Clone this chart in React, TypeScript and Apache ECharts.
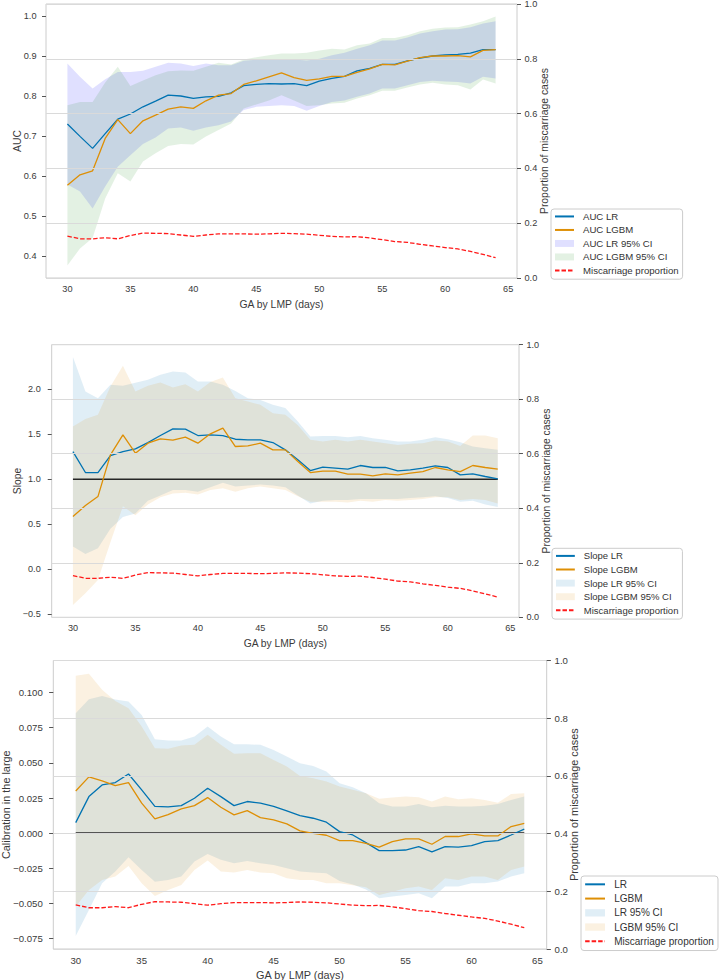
import React, { useEffect, useRef } from "react";
import * as echarts from "echarts";

// ---------------- data ----------------
const DAYS = [30, 31, 32, 33, 34, 35, 36, 37, 38, 39, 40, 41, 42, 43, 44, 45, 46, 47, 48, 49, 50, 51, 52, 53, 54, 55, 56, 57, 58, 59, 60, 61, 62, 63, 64];
const X_TICKS = [30, 35, 40, 45, 50, 55, 60, 65];
const RIGHT_TICKS = [0, 0.2, 0.4, 0.6, 0.8, 1.0];

const MISCARRIAGE = [0.153, 0.143, 0.143, 0.147, 0.143, 0.155, 0.164, 0.163, 0.162, 0.157, 0.152, 0.157, 0.161, 0.161, 0.161, 0.160, 0.161, 0.163, 0.162, 0.160, 0.156, 0.152, 0.150, 0.151, 0.146, 0.140, 0.133, 0.130, 0.123, 0.117, 0.111, 0.106, 0.097, 0.086, 0.074];

// AUC panel
const AUC_TICKS = [0.4, 0.5, 0.6, 0.7, 0.8, 0.9, 1.0];
const AUC_LR = [0.731, 0.700, 0.670, 0.707, 0.743, 0.756, 0.774, 0.788, 0.803, 0.801, 0.795, 0.799, 0.800, 0.809, 0.827, 0.830, 0.832, 0.831, 0.832, 0.827, 0.838, 0.845, 0.850, 0.864, 0.870, 0.880, 0.880, 0.889, 0.896, 0.901, 0.904, 0.905, 0.908, 0.917, 0.917];
const AUC_LGBM = [0.578, 0.604, 0.614, 0.695, 0.742, 0.707, 0.739, 0.753, 0.768, 0.774, 0.770, 0.789, 0.803, 0.807, 0.830, 0.839, 0.849, 0.859, 0.847, 0.840, 0.844, 0.850, 0.850, 0.860, 0.869, 0.880, 0.879, 0.888, 0.897, 0.901, 0.901, 0.902, 0.899, 0.915, 0.917];
const AUC_LR_LO = [0.580, 0.562, 0.520, 0.575, 0.624, 0.653, 0.681, 0.697, 0.720, 0.722, 0.714, 0.722, 0.728, 0.737, 0.766, 0.774, 0.776, 0.778, 0.776, 0.764, 0.776, 0.786, 0.790, 0.799, 0.807, 0.820, 0.820, 0.828, 0.836, 0.839, 0.837, 0.836, 0.832, 0.849, 0.845];
const AUC_LR_HI = [0.882, 0.849, 0.820, 0.843, 0.861, 0.861, 0.864, 0.874, 0.884, 0.882, 0.876, 0.882, 0.878, 0.878, 0.889, 0.892, 0.892, 0.892, 0.892, 0.890, 0.894, 0.903, 0.909, 0.919, 0.928, 0.940, 0.940, 0.947, 0.957, 0.963, 0.967, 0.968, 0.973, 0.982, 0.988];
const AUC_LGBM_LO = [0.377, 0.420, 0.446, 0.545, 0.608, 0.587, 0.637, 0.658, 0.676, 0.681, 0.680, 0.700, 0.716, 0.732, 0.770, 0.780, 0.790, 0.803, 0.790, 0.776, 0.778, 0.782, 0.784, 0.795, 0.803, 0.814, 0.814, 0.822, 0.830, 0.834, 0.830, 0.828, 0.817, 0.842, 0.832];
const AUC_LGBM_HI = [0.778, 0.786, 0.786, 0.835, 0.874, 0.826, 0.840, 0.853, 0.863, 0.865, 0.864, 0.874, 0.884, 0.880, 0.892, 0.898, 0.903, 0.907, 0.907, 0.909, 0.915, 0.919, 0.917, 0.928, 0.932, 0.946, 0.946, 0.953, 0.963, 0.969, 0.972, 0.973, 0.980, 0.988, 1.000];

// Slope panel
const SLOPE_TICKS = [-0.5, 0.0, 0.5, 1.0, 1.5, 2.0];
const SLOPE_REF = 1.0;
const SLOPE_LR = [1.307, 1.074, 1.074, 1.263, 1.307, 1.337, 1.407, 1.485, 1.559, 1.556, 1.485, 1.493, 1.485, 1.444, 1.437, 1.437, 1.407, 1.326, 1.215, 1.096, 1.133, 1.122, 1.111, 1.152, 1.130, 1.130, 1.093, 1.104, 1.122, 1.148, 1.130, 1.048, 1.059, 1.030, 1.004];
const SLOPE_LGBM = [0.585, 0.707, 0.807, 1.270, 1.493, 1.289, 1.400, 1.448, 1.433, 1.467, 1.400, 1.504, 1.567, 1.363, 1.370, 1.400, 1.326, 1.326, 1.196, 1.074, 1.089, 1.089, 1.056, 1.056, 1.037, 1.059, 1.048, 1.067, 1.085, 1.130, 1.104, 1.085, 1.152, 1.130, 1.111];
const SLOPE_LR_LO = [0.252, 0.170, 0.233, 0.450, 0.580, 0.620, 0.760, 0.820, 0.880, 0.880, 0.860, 0.910, 0.960, 0.920, 0.930, 0.940, 0.930, 0.910, 0.820, 0.730, 0.760, 0.770, 0.770, 0.780, 0.780, 0.780, 0.780, 0.790, 0.800, 0.810, 0.790, 0.750, 0.760, 0.720, 0.690];
const SLOPE_LR_HI = [2.356, 1.974, 1.900, 2.050, 2.037, 2.070, 2.104, 2.160, 2.196, 2.185, 2.085, 2.085, 2.050, 1.980, 1.900, 1.880, 1.826, 1.790, 1.640, 1.474, 1.480, 1.480, 1.467, 1.480, 1.456, 1.437, 1.419, 1.419, 1.437, 1.467, 1.444, 1.410, 1.363, 1.344, 1.326];
const SLOPE_LGBM_LO = [-0.396, -0.267, -0.119, 0.300, 0.700, 0.600, 0.720, 0.800, 0.840, 0.850, 0.830, 0.880, 0.900, 0.860, 0.900, 0.920, 0.900, 0.880, 0.810, 0.750, 0.750, 0.750, 0.740, 0.760, 0.750, 0.770, 0.760, 0.770, 0.780, 0.800, 0.800, 0.770, 0.780, 0.770, 0.730];
const SLOPE_LGBM_HI = [1.585, 1.670, 1.715, 2.030, 2.260, 1.974, 2.037, 2.074, 2.019, 2.056, 1.974, 2.080, 2.130, 1.900, 1.863, 1.826, 1.733, 1.715, 1.600, 1.437, 1.419, 1.437, 1.419, 1.437, 1.419, 1.400, 1.381, 1.393, 1.400, 1.430, 1.419, 1.370, 1.485, 1.485, 1.456];

// Calibration-in-the-large panel
const CAL_TICKS = [-0.075, -0.05, -0.025, 0.0, 0.025, 0.05, 0.075, 0.1];
const CAL_REF = 0.0;
const CAL_LR = [0.0075, 0.026, 0.0343, 0.036, 0.0421, 0.0308, 0.0191, 0.0187, 0.0196, 0.0248, 0.0319, 0.026, 0.0196, 0.0225, 0.0213, 0.019, 0.0158, 0.0125, 0.0106, 0.0078, 0.0011, -0.0013, -0.0067, -0.0124, -0.0124, -0.012, -0.0096, -0.0133, -0.0096, -0.01, -0.0089, -0.006, -0.0053, -0.0013, 0.0028];
const CAL_LGBM = [0.03, 0.04, 0.0372, 0.0338, 0.036, 0.0213, 0.0101, 0.0132, 0.0172, 0.0196, 0.0253, 0.0184, 0.013, 0.016, 0.011, 0.0094, 0.0066, 0.0016, -0.0001, -0.0015, -0.0053, -0.0053, -0.0072, -0.01, -0.006, -0.0041, -0.0041, -0.0079, -0.0024, -0.0024, -0.0005, -0.002, -0.002, 0.0047, 0.007];
const CAL_LR_LO = [-0.0731, -0.0546, -0.0356, -0.0273, -0.0171, -0.0262, -0.0345, -0.0333, -0.0309, -0.0202, -0.0148, -0.019, -0.0214, -0.0198, -0.0214, -0.0226, -0.025, -0.0273, -0.028, -0.0285, -0.034, -0.0365, -0.04, -0.0463, -0.0451, -0.044, -0.0428, -0.0463, -0.038, -0.038, -0.0356, -0.0356, -0.0344, -0.0309, -0.0285];
const CAL_LR_HI = [0.0853, 0.0953, 0.0976, 0.095, 0.0936, 0.0841, 0.0668, 0.0659, 0.0659, 0.0687, 0.0758, 0.0687, 0.0632, 0.0632, 0.0628, 0.0592, 0.0545, 0.0497, 0.0478, 0.0438, 0.0355, 0.0327, 0.0284, 0.0213, 0.0189, 0.0189, 0.0208, 0.0184, 0.0194, 0.0189, 0.0189, 0.0194, 0.0208, 0.0236, 0.026];
const CAL_LGBM_LO = [-0.0522, -0.0404, -0.0333, -0.0309, -0.0233, -0.0356, -0.0447, -0.0404, -0.0368, -0.0262, -0.0195, -0.0273, -0.028, -0.0262, -0.028, -0.0285, -0.0321, -0.0333, -0.0333, -0.0356, -0.0356, -0.037, -0.0385, -0.044, -0.0416, -0.0392, -0.038, -0.0404, -0.0321, -0.0333, -0.0309, -0.0309, -0.0333, -0.0262, -0.0238];
const CAL_LGBM_HI = [0.1119, 0.1133, 0.102, 0.094, 0.0889, 0.0758, 0.0604, 0.06, 0.0623, 0.0628, 0.0699, 0.0628, 0.0564, 0.0568, 0.0568, 0.0521, 0.0474, 0.0407, 0.039, 0.0367, 0.0331, 0.0308, 0.0284, 0.0244, 0.0253, 0.026, 0.0255, 0.0225, 0.026, 0.0241, 0.0248, 0.0236, 0.0217, 0.0279, 0.0284];

// ---------------- style ----------------
const FONT = "'Liberation Sans', Arial, Helvetica, sans-serif";
const TEXT = "#3a3a3a";
const SPINE = "#cccccc";
const GRIDLINE = "#dadada";
const BLUE = "#0173b2";
const ORANGE = "#de8f05";
const RED = "#ff1a1a";
const MISC_NAME = "Miscarriage proportion";

type Panel = {
  s: number;
  grid: { left: number; top: number; width: number; height: number };
  yMin: number; yMax: number; yTicks: number[]; yDigits: number; yName: string;
  leftGap: number; rightGap: number; xGap: number; leftMargin: number;
  legend: { left: number; top: number; padTop: number; rowH: number };
  names: [string, string, string, string];
  lr: number[]; lgbm: number[]; lrLo: number[]; lrHi: number[]; lgbmLo: number[]; lgbmHi: number[];
  lrFill: string; lgbmFill: string; ref: number | null;
};

const PANELS: Panel[] = [
  {
    s: 1, grid: { left: 46, top: 4, width: 471, height: 274 },
    yMin: 0.346, yMax: 1.031, yTicks: AUC_TICKS, yDigits: 1, yName: "AUC",
    leftGap: 24, rightGap: 22, xGap: 21, leftMargin: 9.5,
    legend: { left: 551, top: 209, padTop: 0.7, rowH: 13.5 },
    names: ["AUC LR", "AUC LGBM", "AUC LR 95% CI", "AUC LGBM 95% CI"],
    lr: AUC_LR, lgbm: AUC_LGBM, lrLo: AUC_LR_LO, lrHi: AUC_LR_HI, lgbmLo: AUC_LGBM_LO, lgbmHi: AUC_LGBM_HI,
    lrFill: "rgba(0,0,255,0.12)", lgbmFill: "rgba(0,128,0,0.11)", ref: null,
  },
  {
    s: 0.992, grid: { left: 51.7, top: 344.7, width: 467.3, height: 272.6 },
    yMin: -0.534, yMax: 2.494, yTicks: SLOPE_TICKS, yDigits: 1, yName: "Slope",
    leftGap: 29.5, rightGap: 22, xGap: 21, leftMargin: 11,
    legend: { left: 552, top: 548.3, padTop: 0.8, rowH: 13.6 },
    names: ["Slope LR", "Slope LGBM", "Slope LR 95% CI", "Slope LGBM 95% CI"],
    lr: SLOPE_LR, lgbm: SLOPE_LGBM, lrLo: SLOPE_LR_LO, lrHi: SLOPE_LR_HI, lgbmLo: SLOPE_LGBM_LO, lgbmHi: SLOPE_LGBM_HI,
    lrFill: "rgba(1,115,178,0.12)", lgbmFill: "rgba(222,143,5,0.12)", ref: SLOPE_REF,
  },
  {
    s: 1.045, grid: { left: 53.3, top: 660.5, width: 493.4, height: 288.5 },
    yMin: -0.0824, yMax: 0.1228, yTicks: CAL_TICKS, yDigits: 3, yName: "Calibration in the large",
    leftGap: 41.5, rightGap: 22, xGap: 20.5, leftMargin: 10.5,
    legend: { left: 581, top: 876, padTop: 1.2, rowH: 14.25 },
    names: ["LR", "LGBM", "LR 95% CI", "LGBM 95% CI"],
    lr: CAL_LR, lgbm: CAL_LGBM, lrLo: CAL_LR_LO, lrHi: CAL_LR_HI, lgbmLo: CAL_LGBM_LO, lgbmHi: CAL_LGBM_HI,
    lrFill: "rgba(1,115,178,0.12)", lgbmFill: "rgba(222,143,5,0.12)", ref: CAL_REF,
  },
];

const pairs = (ys: number[]) => DAYS.map((d, i) => [d, ys[i]]);
const fmt = (v: number, digits: number) => {
  const r = Math.abs(v) < 1e-9 ? 0 : v;
  return r.toFixed(digits).replace("-", "\u2212");
};

function buildOption() {
  const grid: any[] = [];
  const xAxis: any[] = [];
  const yAxis: any[] = [];
  const series: any[] = [];
  const legend: any[] = [];

  PANELS.forEach((p, k) => {
    const s = p.s;
    const tickFont = 9.2 * s;
    const titleFont = 10.4 * s;
    grid.push({
      left: p.grid.left, top: p.grid.top, width: p.grid.width, height: p.grid.height,
      show: true, borderColor: SPINE, borderWidth: 1, backgroundColor: "transparent",
      containLabel: false, outerBoundsMode: "none",
    });
    xAxis.push({
      type: "value", gridIndex: k, min: 28.3, max: 65.7,
      axisLine: { show: false }, axisTick: { show: false }, splitLine: { show: false },
      axisLabel: {
        customValues: X_TICKS, margin: 6 * s, color: TEXT, fontSize: tickFont, fontFamily: FONT,
        formatter: (v: number) => (X_TICKS.indexOf(Math.round(v)) >= 0 && Math.abs(v - Math.round(v)) < 1e-6 ? String(Math.round(v)) : ""),
      },
      name: "GA by LMP (days)", nameLocation: "middle", nameGap: p.xGap, nameMoveOverlap: false,
      nameTextStyle: { color: TEXT, fontSize: titleFont, fontFamily: FONT },
    });
    // left axis
    yAxis.push({
      type: "value", gridIndex: k, position: "left", min: p.yMin, max: p.yMax,
      axisLine: { show: false }, splitLine: { show: false },
      axisTick: { show: true, customValues: p.yTicks, length: 4 * s, lineStyle: { color: "#555", width: 1 } },
      axisLabel: {
        customValues: p.yTicks, margin: p.leftMargin, color: TEXT, fontSize: tickFont, fontFamily: FONT,
        formatter: (v: number) => fmt(v, p.yDigits),
      },
      name: p.yName, nameLocation: "middle", nameRotate: 90, nameGap: p.leftGap, nameMoveOverlap: false,
      nameTextStyle: { color: TEXT, fontSize: titleFont, fontFamily: FONT },
    });
    // right axis
    yAxis.push({
      type: "value", gridIndex: k, position: "right", min: 0, max: 1, interval: 0.2, z: 3,
      axisLine: { show: false },
      splitLine: { show: true, lineStyle: { color: GRIDLINE, width: 1 } },
      axisTick: { show: true, length: 4 * s, lineStyle: { color: "#555", width: 1 } },
      axisLabel: {
        margin: 7.5 * s, color: TEXT, fontSize: tickFont, fontFamily: FONT,
        formatter: (v: number) => (RIGHT_TICKS.some((t) => Math.abs(t - v) < 1e-6) ? fmt(v, 1) : ""),
      },
      name: "Proportion of miscarriage cases", nameLocation: "middle", nameRotate: 90, nameGap: p.rightGap,
      nameMoveOverlap: false,
      nameTextStyle: { color: TEXT, fontSize: titleFont, fontFamily: FONT },
    });
    const yl = 2 * k;
    const yr = 2 * k + 1;
    const band = (name: string, lo: number[], hi: number[], fill: string) => {
      series.push({
        type: "custom", name, xAxisIndex: k, yAxisIndex: yl, z: 1, silent: true,
        itemStyle: { color: fill },
        data: DAYS.map((d, i) => [d, lo[i], hi[i]]),
        encode: { x: 0, y: [1, 2] },
        renderItem: (params: any, api: any) => {
          if (params.dataIndex !== 0) return null;
          const upper = DAYS.map((d, i) => api.coord([d, hi[i]]));
          const lower = DAYS.map((d, i) => api.coord([d, lo[i]])).reverse();
          return {
            type: "polygon",
            shape: { points: upper.concat(lower) },
            style: { fill, stroke: null, lineWidth: 0 },
          };
        },
      });
    };
    band(p.names[2], p.lrLo, p.lrHi, p.lrFill);
    band(p.names[3], p.lgbmLo, p.lgbmHi, p.lgbmFill);
    if (p.ref !== null) {
      series.push({
        type: "line", name: "ref" + k, xAxisIndex: k, yAxisIndex: yl, symbol: "none", silent: true, z: 2,
        data: [[DAYS[0], p.ref], [DAYS[DAYS.length - 1], p.ref]],
        lineStyle: { color: "#262626", width: 1.6 }, itemStyle: { color: "#262626" },
      });
    }
    series.push({
      type: "line", name: p.names[0], xAxisIndex: k, yAxisIndex: yl, data: pairs(p.lr), symbol: "none", z: 2,
      lineStyle: { color: BLUE, width: 1.3 }, itemStyle: { color: BLUE },
    });
    series.push({
      type: "line", name: p.names[1], xAxisIndex: k, yAxisIndex: yl, data: pairs(p.lgbm), symbol: "none", z: 2,
      lineStyle: { color: ORANGE, width: 1.3 }, itemStyle: { color: ORANGE },
    });
    series.push({
      type: "line", name: MISC_NAME, xAxisIndex: k, yAxisIndex: yr, data: pairs(MISCARRIAGE), symbol: "none", z: 5,
      lineStyle: { color: RED, width: 1.3, type: [4.5, 2] }, itemStyle: { color: RED },
    });
    legend.push({
      orient: "vertical", left: p.legend.left, top: p.legend.top,
      padding: [p.legend.padTop, 4 * s, 2 * s, 3 * s], itemGap: 0,
      itemWidth: 19 * s, itemHeight: 7 * s,
      backgroundColor: "#ffffff", borderColor: "#cccccc", borderWidth: 1, borderRadius: 3,
      selectedMode: false,
      textStyle: { fontSize: 9.6 * s, color: "#333", fontFamily: FONT, lineHeight: p.legend.rowH, padding: [0, 0, 0, 4 * s] },
      data: [
        { name: p.names[0], itemStyle: { opacity: 0 } },
        { name: p.names[1], itemStyle: { opacity: 0 } },
        { name: p.names[2], icon: "rect", itemStyle: { color: p.lrFill } },
        { name: p.names[3], icon: "rect", itemStyle: { color: p.lgbmFill } },
        { name: MISC_NAME, itemStyle: { opacity: 0 } },
      ],
    });
  });

  return {
    animation: false,
    backgroundColor: "#ffffff",
    textStyle: { fontFamily: FONT },
    grid, xAxis, yAxis, series, legend,
  };
}

export default function App() {
  const ref = useRef<HTMLDivElement>(null);
  useEffect(() => {
    if (!ref.current) return;
    const chart = echarts.init(ref.current, null, { renderer: "svg" });
    chart.setOption(buildOption() as any);
    return () => chart.dispose();
  }, []);
  return (
    <div
      ref={ref}
      style={{ position: "absolute", left: 0, top: 0, width: 719, height: 980, background: "#fff" }}
    />
  );
}
